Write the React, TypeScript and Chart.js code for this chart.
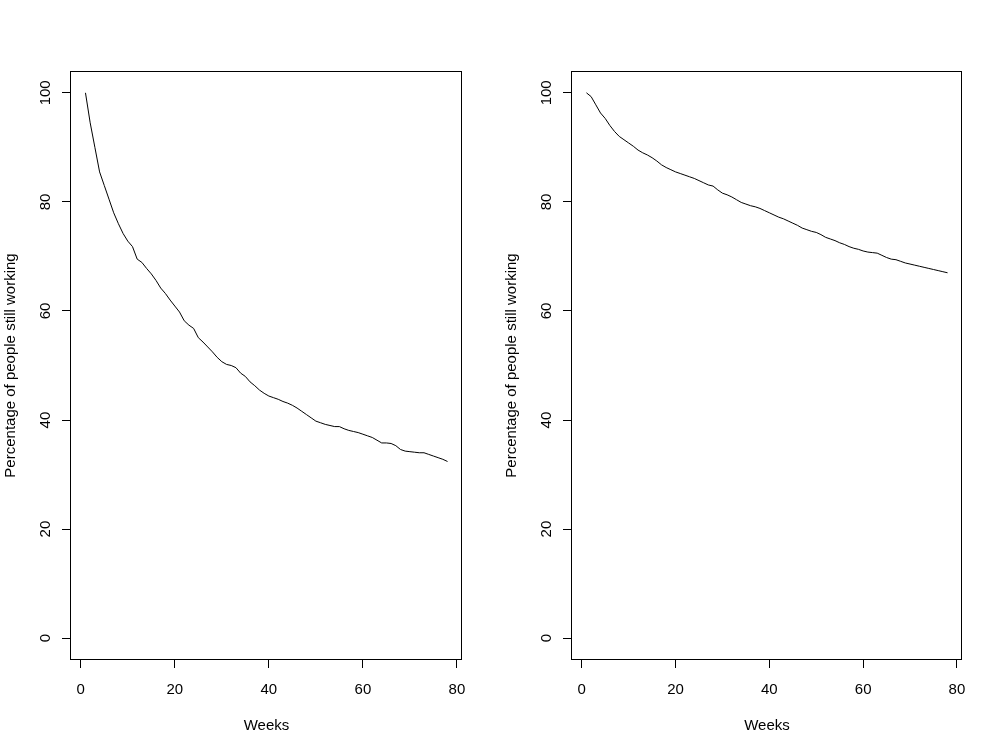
import React, { useEffect, useRef } from "react";
import { Chart, registerables } from "chart.js";

Chart.register(...registerables);

const weeks = [
  1, 2, 3, 4, 5, 6, 7, 8, 9, 10, 11, 12, 13, 14, 15, 16, 17, 18, 19, 20,
  21, 22, 23, 24, 25, 26, 27, 28, 29, 30, 31, 32, 33, 34, 35, 36, 37, 38, 39, 40,
  41, 42, 43, 44, 45, 46, 47, 48, 49, 50, 51, 52, 53, 54, 55, 56, 57, 58, 59, 60,
  61, 62, 63, 64, 65, 66, 67, 68, 69, 70, 71, 72, 73, 74, 75, 76, 77, 78,
];

const leftValues = [
  100, 94.5, 90, 85.5, 83, 80.5, 78, 76, 74.2, 72.8,
  71.8, 69.5, 68.9, 67.8, 66.8, 65.6, 64.2, 63.2, 62, 60.9,
  59.8, 58.2, 57.4, 56.8, 55.1, 54.3, 53.4, 52.5, 51.5, 50.7,
  50.2, 50.0, 49.6, 48.6, 48.0, 47.0, 46.3, 45.5, 44.9, 44.4,
  44.1, 43.8, 43.4, 43.1, 42.7, 42.2, 41.6, 41.0, 40.4, 39.8,
  39.5, 39.2, 39.0, 38.8, 38.8, 38.4, 38.1, 37.9, 37.7, 37.4,
  37.1, 36.8, 36.3, 35.8, 35.8, 35.7, 35.3, 34.6, 34.3, 34.2,
  34.1, 34.0, 34.0, 33.7, 33.4, 33.1, 32.8, 32.4,
];

const rightValues = [
  100, 99.3, 97.8, 96.3, 95.3, 94.0, 92.9, 92.0, 91.4, 90.8,
  90.2, 89.5, 89.0, 88.6, 88.1, 87.5, 86.8, 86.3, 85.9, 85.5,
  85.2, 84.9, 84.6, 84.3, 83.9, 83.5, 83.1, 82.9, 82.2, 81.6,
  81.3, 80.9, 80.4, 79.9, 79.6, 79.3, 79.1, 78.8, 78.4, 78.0,
  77.6, 77.2, 76.9, 76.5, 76.1, 75.7, 75.2, 74.9, 74.6, 74.4,
  74.0, 73.5, 73.2, 72.9, 72.5, 72.2, 71.8, 71.5, 71.3, 71.0,
  70.8, 70.7, 70.6, 70.2, 69.8, 69.5, 69.4, 69.1, 68.8, 68.6,
  68.4, 68.2, 68.0, 67.8, 67.6, 67.4, 67.2, 67.0,
];

const xTickValues = [0, 20, 40, 60, 80];
const yTickValues = [0, 20, 40, 60, 80, 100];

const xLabel = "Weeks";
const yLabel = "Percentage of people still working";

const FONT = "'Liberation Sans', Arial, sans-serif";

const rPlotPlugin = {
  id: "rPlot",
  beforeDraw(chart: any) {
    const ctx = chart.ctx;
    ctx.save();
    ctx.fillStyle = "#ffffff";
    ctx.fillRect(0, 0, chart.width, chart.height);
    ctx.restore();
  },
  afterDraw(chart: any) {
    const { ctx, chartArea } = chart;
    const { left, top, right, bottom } = chartArea;
    ctx.save();
    ctx.strokeStyle = "#000";
    ctx.lineWidth = 1;
    ctx.strokeRect(Math.round(left) - 0.5, Math.round(top) + 0.5, Math.round(right - left), Math.round(bottom - top) - 1);
    const yScale = chart.scales.y;
    ctx.fillStyle = "#000";
    ctx.font = "15px " + FONT;
    ctx.textAlign = "center";
    ctx.textBaseline = "middle";
    for (const v of yTickValues) {
      const py = yScale.getPixelForValue(v);
      ctx.save();
      ctx.translate(left - 25, py);
      ctx.rotate(-Math.PI / 2);
      ctx.fillText(String(v), 0, 0);
      ctx.restore();
    }
    ctx.restore();
  },
};

function makeConfig(values: number[], rightPad: number, height: number): any {
  return {
    type: "line",
    data: {
      datasets: [
        {
          data: weeks.map((w, i) => ({ x: w, y: values[i] })),
          borderColor: "#000",
          borderWidth: 1,
          pointRadius: 0,
          tension: 0,
          fill: false,
        },
      ],
    },
    options: {
      animation: false,
      responsive: false,
      events: [],
      layout: { padding: { top: 71, right: rightPad, left: 0, bottom: 0 } },
      plugins: { legend: { display: false }, tooltip: { enabled: false } },
      scales: {
        x: {
          type: "linear",
          min: -2.08,
          max: 81.08,
          afterBuildTicks: (s: any) => {
            s.ticks = xTickValues.map((v) => ({ value: v }));
          },
          afterFit: (s: any) => {
            s.height = height - 660;
          },
          grid: { display: true, drawOnChartArea: false, drawTicks: true, tickLength: 8, color: "#000", lineWidth: 1 },
          border: { display: false },
          ticks: {
            color: "#000",
            font: { family: FONT, size: 15 },
            padding: 13,
            maxRotation: 0,
            minRotation: 0,
            callback: (v: any) => String(v),
          },
          title: {
            display: true,
            text: xLabel,
            color: "#000",
            font: { family: FONT, size: 15 },
            padding: { top: 0, bottom: 14 },
          },
        },
        y: {
          type: "linear",
          min: -4,
          max: 104,
          afterBuildTicks: (s: any) => {
            s.ticks = yTickValues.map((v) => ({ value: v }));
          },
          afterFit: (s: any) => {
            s.width = 71;
          },
          grid: { display: true, drawOnChartArea: false, drawTicks: true, tickLength: 9, color: "#000", lineWidth: 1 },
          border: { display: false },
          ticks: { display: false },
          title: {
            display: true,
            text: yLabel,
            color: "#000",
            font: { family: FONT, size: 15 },
            padding: { top: 1.5, bottom: 0 },
          },
        },
      },
    },
    plugins: [rPlotPlugin],
  };
}

function Panel({ values, left, width, rightPad }: { values: number[]; left: number; width: number; rightPad: number }) {
  const ref = useRef<HTMLCanvasElement | null>(null);
  useEffect(() => {
    if (!ref.current) return;
    const chart = new Chart(ref.current, makeConfig(values, rightPad, 749));
    return () => chart.destroy();
  }, [values, rightPad]);
  return (
    <canvas
      ref={ref}
      width={width}
      height={749}
      style={{ position: "absolute", left, top: 0, width, height: 749 }}
    />
  );
}

export default function App() {
  return (
    <div style={{ position: "fixed", left: 0, top: 0, width: 997, height: 749, background: "#fff", overflow: "hidden" }}>
      <Panel values={leftValues} left={0} width={500} rightPad={38} />
      <Panel values={rightValues} left={501} width={496} rightPad={35} />
    </div>
  );
}
